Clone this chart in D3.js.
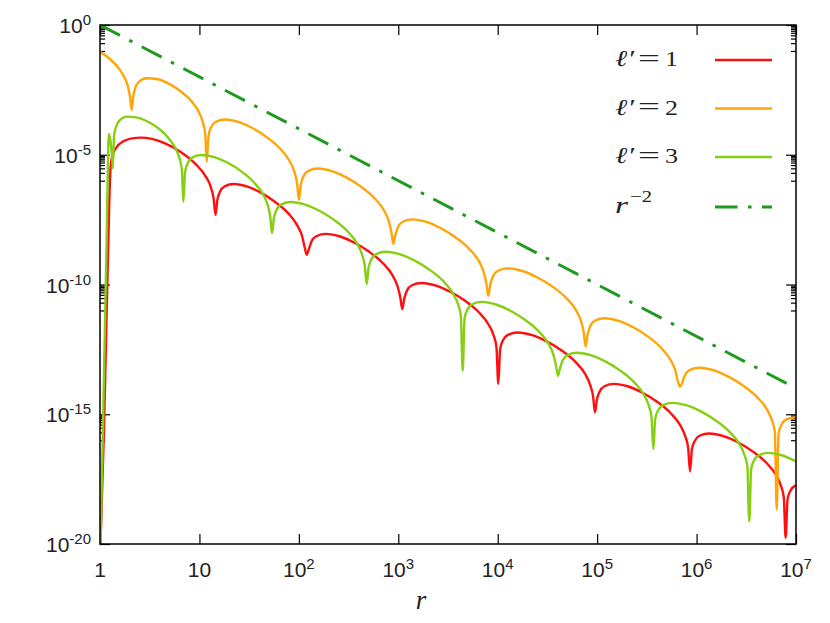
<!DOCTYPE html>
<html>
<head>
<meta charset="utf-8">
<script src="https://cdn.jsdelivr.net/npm/d3@7"></script>
<style>
  body { margin: 0; background: #fff; }
  text { fill: #222; }
</style>
</head>
<body>
<script>
// values, stored as [log10 r, log10 y]
var red = [
  [0.005,-20],[0.040,-15.6],[0.070,-10.59],[0.094,-6.74],[0.106,-5.51],[0.121,-5.08],[0.161,-4.74],[0.241,-4.47],
  [0.322,-4.37],[0.412,-4.34],[0.523,-4.39],[0.654,-4.56],[0.812,-4.89],[0.962,-5.36],[1.062,-5.83],[1.112,-6.22],
  [1.142,-6.67],[1.162,-7.32],
  [1.180,-6.75],[1.208,-6.42],[1.254,-6.22],[1.345,-6.13],[1.483,-6.23],[1.621,-6.47],[1.758,-6.81],[1.896,-7.27],
  [1.987,-7.74],[2.033,-8.14],[2.060,-8.59],[2.079,-8.86],
  [2.098,-8.67],[2.127,-8.34],[2.175,-8.14],[2.271,-8.05],[2.415,-8.15],[2.560,-8.39],[2.704,-8.73],[2.848,-9.19],
  [2.944,-9.66],[2.992,-10.06],[3.021,-10.51],[3.040,-10.95],
  [3.059,-10.56],[3.088,-10.23],[3.137,-10.03],[3.233,-9.94],[3.378,-10.04],[3.523,-10.28],[3.668,-10.62],[3.813,-11.08],
  [3.909,-11.55],[3.958,-11.95],[3.987,-12.40],[4.006,-13.83],
  [4.025,-12.47],[4.055,-12.14],[4.103,-11.94],[4.200,-11.85],[4.346,-11.95],[4.492,-12.19],[4.638,-12.53],[4.784,-12.99],
  [4.881,-13.46],[4.929,-13.86],[4.959,-14.31],[4.978,-14.93],
  [4.997,-14.45],[5.026,-14.12],[5.074,-13.92],[5.169,-13.83],[5.313,-13.93],[5.456,-14.17],[5.599,-14.51],[5.743,-14.97],
  [5.838,-15.44],[5.886,-15.84],[5.915,-16.29],[5.934,-17.21],
  [5.953,-16.36],[5.982,-16.03],[6.030,-15.83],[6.126,-15.74],[6.271,-15.84],[6.415,-16.08],[6.559,-16.42],[6.704,-16.88],
  [6.800,-17.35],[6.848,-17.75],[6.877,-18.20],[6.896,-19.76],
  [6.915,-18.28],[6.944,-17.95],[6.992,-17.75],[7.0,-17.74]
];

var orange = [
  [0,-1.03],[0.1,-1.31],[0.2,-1.73],[0.25,-2.05],[0.28,-2.35],[0.30,-2.72],[0.319,-3.27],
  [0.334,-2.75],[0.357,-2.40],[0.394,-2.18],[0.470,-2.05],[0.583,-2.09],[0.696,-2.27],[0.809,-2.55],[0.922,-2.95],
  [0.998,-3.38],[1.035,-3.76],[1.058,-4.19],[1.073,-5.27],
  [1.092,-4.26],[1.119,-3.93],[1.166,-3.73],[1.259,-3.64],[1.398,-3.74],[1.537,-3.98],[1.676,-4.32],[1.815,-4.78],
  [1.908,-5.25],[1.955,-5.65],[1.982,-6.10],[2.001,-6.74],
  [2.020,-6.15],[2.048,-5.82],[2.096,-5.62],[2.191,-5.53],[2.333,-5.63],[2.476,-5.87],[2.618,-6.21],[2.760,-6.67],
  [2.855,-7.14],[2.903,-7.54],[2.931,-7.99],[2.950,-8.44],
  [2.969,-8.11],[2.998,-7.78],[3.046,-7.58],[3.141,-7.49],[3.284,-7.59],[3.428,-7.83],[3.571,-8.17],[3.714,-8.63],
  [3.810,-9.10],[3.857,-9.50],[3.886,-9.95],[3.905,-10.44],
  [3.925,-10.00],[3.954,-9.67],[4.003,-9.47],[4.101,-9.38],[4.248,-9.48],[4.395,-9.72],[4.542,-10.06],[4.689,-10.52],
  [4.787,-10.99],[4.836,-11.39],[4.865,-11.84],[4.885,-12.39],
  [4.904,-11.92],[4.932,-11.59],[4.980,-11.39],[5.075,-11.30],[5.217,-11.40],[5.359,-11.64],[5.501,-11.98],[5.643,-12.44],
  [5.738,-12.91],[5.786,-13.31],[5.814,-13.76],[5.833,-13.93],
  [5.852,-13.83],[5.882,-13.50],[5.930,-13.30],[6.028,-13.21],[6.174,-13.31],[6.320,-13.55],[6.466,-13.89],[6.611,-14.35],
  [6.709,-14.82],[6.757,-15.22],[6.787,-15.67],[6.806,-18.68],
  [6.825,-15.73],[6.855,-15.40],[6.903,-15.20],[7.0,-15.11]
];

var green = [
  [0.005,-20],[0.025,-16.4],[0.045,-12.5],[0.065,-8.7],[0.077,-6.0],[0.083,-4.8],[0.088,-4.2],[0.095,-4.25],
  [0.105,-4.45],[0.116,-4.85],[0.124,-5.15],[0.128,-5.52],
  [0.142,-4.25],[0.164,-3.90],[0.199,-3.67],[0.270,-3.53],[0.377,-3.57],[0.483,-3.73],[0.590,-3.99],[0.696,-4.39],
  [0.767,-4.81],[0.803,-5.18],[0.824,-5.61],[0.838,-6.81],
  [0.856,-5.65],[0.883,-5.32],[0.927,-5.11],[1.016,-5.01],[1.150,-5.09],[1.284,-5.31],[1.418,-5.63],[1.552,-6.08],
  [1.641,-6.53],[1.685,-6.92],[1.712,-7.37],[1.730,-8.02],
  [1.749,-7.44],[1.778,-7.11],[1.825,-6.91],[1.920,-6.82],[2.063,-6.92],[2.206,-7.16],[2.349,-7.50],[2.492,-7.96],
  [2.587,-8.43],[2.634,-8.83],[2.663,-9.28],[2.682,-9.98],
  [2.701,-9.36],[2.730,-9.03],[2.779,-8.83],[2.875,-8.74],[3.020,-8.84],[3.165,-9.08],[3.310,-9.42],[3.455,-9.88],
  [3.551,-10.35],[3.600,-10.75],[3.629,-11.20],[3.648,-13.32],
  [3.667,-11.29],[3.696,-10.96],[3.744,-10.76],[3.840,-10.67],[3.983,-10.77],[4.127,-11.01],[4.271,-11.35],[4.414,-11.81],
  [4.510,-12.28],[4.558,-12.68],[4.587,-13.13],[4.606,-13.52],
  [4.625,-13.25],[4.654,-12.92],[4.702,-12.72],[4.798,-12.63],[4.942,-12.73],[5.086,-12.97],[5.229,-13.31],[5.373,-13.77],
  [5.469,-14.24],[5.517,-14.64],[5.546,-15.09],[5.565,-16.34],
  [5.584,-15.18],[5.613,-14.85],[5.662,-14.65],[5.758,-14.56],[5.903,-14.66],[6.048,-14.90],[6.192,-15.24],[6.337,-15.70],
  [6.434,-16.17],[6.482,-16.57],[6.511,-17.02],[6.530,-19.13],
  [6.549,-17.11],[6.578,-16.78],[6.626,-16.58],[6.722,-16.49],[6.866,-16.59],[7.0,-16.82]
];

var powerLaw = [[0,0],[7,-14]];   // r^-2

var xTickVals = [1,1e1,1e2,1e3,1e4,1e5,1e6,1e7];
var xTickBase = ["1","10","10","10","10","10","10","10"];
var xTickSup  = ["","","2","3","4","5","6","7"];
var yTickVals = [1,1e-5,1e-10,1e-15,1e-20];
var yTickSup  = ["0","-5","-10","-15","-20"];
var legendNum = ["1","2","3"];

var W = 830, H = 623;
var padL = 100, padR = 796, padT = 25, padB = 544;

var svg = d3.select("body").append("svg")
    .attr("width", W)
    .attr("height", H);

var x = d3.scaleLog().domain([1,1e7]).range([padL,padR]);
var y = d3.scaleLog().domain([1e-20,1]).range([padB,padT]);

svg.append("clipPath").attr("id","plotclip")
    .append("rect")
    .attr("x",padL).attr("y",padT)
    .attr("width",padR-padL).attr("height",padB-padT);

// minor y ticks at k*10^(M-1) under each labelled decade
var yMinor = [];
yTickVals.forEach(function(m){
    if (m > 1e-20) {
        for (var k=1; k<=9; k++) yMinor.push(k*m/10);
    }
});

function tidy(g){
    g.select(".domain").remove();
    g.selectAll(".tick line").attr("stroke","#000").attr("stroke-width",1.2);
}

svg.append("g").attr("transform","translate(0,"+padB+")")
    .call(d3.axisBottom(x).tickValues(xTickVals).tickSize(-10).tickFormat(""))
    .call(tidy);
svg.append("g").attr("transform","translate(0,"+padT+")")
    .call(d3.axisTop(x).tickValues(xTickVals).tickSize(-10).tickFormat(""))
    .call(tidy);
svg.append("g").attr("transform","translate("+padL+",0)")
    .call(d3.axisLeft(y).tickValues(yTickVals).tickSize(-10).tickFormat(""))
    .call(tidy);
svg.append("g").attr("transform","translate("+padR+",0)")
    .call(d3.axisRight(y).tickValues(yTickVals).tickSize(-10).tickFormat(""))
    .call(tidy);
svg.append("g").attr("transform","translate("+padL+",0)")
    .call(d3.axisLeft(y).tickValues(yMinor).tickSize(-5).tickFormat(""))
    .call(tidy);
svg.append("g").attr("transform","translate("+padR+",0)")
    .call(d3.axisRight(y).tickValues(yMinor).tickSize(-5).tickFormat(""))
    .call(tidy);

// tick labels
var xl = svg.selectAll(".xlab")
    .data(xTickVals)
    .enter()
    .append("text")
    .attr("class","xlab")
    .attr("x", function(d){ return x(d); })
    .attr("y", 577)
    .attr("text-anchor","middle")
    .style("font-family","'Liberation Sans', Arial, sans-serif")
    .style("font-size","21px");
xl.append("tspan").text(function(d,i){ return xTickBase[i]; });
xl.append("tspan")
    .attr("dy",-8)
    .style("font-size","15px")
    .text(function(d,i){ return xTickSup[i]; });

var yl = svg.selectAll(".ylab")
    .data(yTickVals)
    .enter()
    .append("text")
    .attr("class","ylab")
    .attr("x", 91)
    .attr("y", function(d){ return y(d) + 8; })
    .attr("text-anchor","end")
    .style("font-family","'Liberation Sans', Arial, sans-serif")
    .style("font-size","21px");
yl.append("tspan").text("10");
yl.append("tspan")
    .attr("dy",-8)
    .style("font-size","15px")
    .text(function(d,i){ return yTickSup[i]; });

svg.append("text")
    .attr("x", 421).attr("y", 609)
    .attr("text-anchor","middle")
    .style("font-family","'Liberation Serif', 'DejaVu Serif', serif")
    .style("font-style","italic")
    .style("font-size","27px")
    .text("r");

// curves
var toXY = function(p){ return [x(Math.pow(10,p[0])), y(Math.pow(10,p[1]))]; };
var smooth = d3.line()
    .x(function(d){ return toXY(d)[0]; })
    .y(function(d){ return toXY(d)[1]; })
    .curve(d3.curveMonotoneX);
var straight = d3.line()
    .x(function(d){ return toXY(d)[0]; })
    .y(function(d){ return toXY(d)[1]; });

var plot = svg.append("g").attr("clip-path","url(#plotclip)");

var series = [
    {data: red, color: "#ff1010", dash: null, w: 2.4, path: smooth},
    {data: orange, color: "#ffa50a", dash: null, w: 2.4, path: smooth},
    {data: green, color: "#86cf12", dash: null, w: 2.4, path: smooth},
    {data: powerLaw, color: "#1f9a1f", dash: "22.5,10.5,3.5,10.5", w: 3, path: straight}
];

plot.selectAll(".curve")
    .data(series)
    .enter()
    .append("path")
    .attr("class","curve")
    .attr("d", function(d){ return d.path(d.data); })
    .attr("fill","none")
    .attr("stroke", function(d){ return d.color; })
    .attr("stroke-width", function(d){ return d.w; })
    .attr("stroke-dasharray", function(d){ return d.dash; })
    .attr("stroke-linejoin","round");

// frame
svg.append("rect")
    .attr("x",padL).attr("y",padT)
    .attr("width",padR-padL).attr("height",padB-padT)
    .attr("fill","none")
    .attr("stroke","#000")
    .attr("stroke-width",1.5);

// legend
var legY = [60, 108.5, 157, 207];
var serif = "'Liberation Serif', 'DejaVu Serif', serif";

series.forEach(function(s, i){
    svg.append("line")
        .attr("x1",715).attr("x2",772)
        .attr("y1",legY[i]).attr("y2",legY[i])
        .attr("stroke", s.color)
        .attr("stroke-width", s.w)
        .attr("stroke-dasharray", s.dash);
});

legendNum.forEach(function(n, i){
    var base = legY[i] + 6;
    svg.append("text")
        .attr("x",615).attr("y",base)
        .attr("textLength",19).attr("lengthAdjust","spacingAndGlyphs")
        .style("font-family",serif).style("font-size","23px").style("font-style","italic")
        .text("\u2113\u2032");
    svg.append("text")
        .attr("x",638).attr("y",base-0.5)
        .attr("textLength",22).attr("lengthAdjust","spacingAndGlyphs")
        .style("font-family",serif).style("font-size","23px")
        .text("=");
    svg.append("text")
        .attr("x",665).attr("y",base)
        .attr("textLength",13).attr("lengthAdjust","spacingAndGlyphs")
        .style("font-family",serif).style("font-size","22px")
        .text(n);
});

svg.append("text")
    .attr("x",615).attr("y",legY[3] + 6)
    .attr("textLength",13).attr("lengthAdjust","spacingAndGlyphs")
    .style("font-family",serif).style("font-size","23px").style("font-style","italic")
    .text("r");
svg.append("text")
    .attr("x",630).attr("y",legY[3] - 5)
    .attr("textLength",22).attr("lengthAdjust","spacingAndGlyphs")
    .style("font-family",serif).style("font-size","16px")
    .text("\u22122");
</script>
</body>
</html>
